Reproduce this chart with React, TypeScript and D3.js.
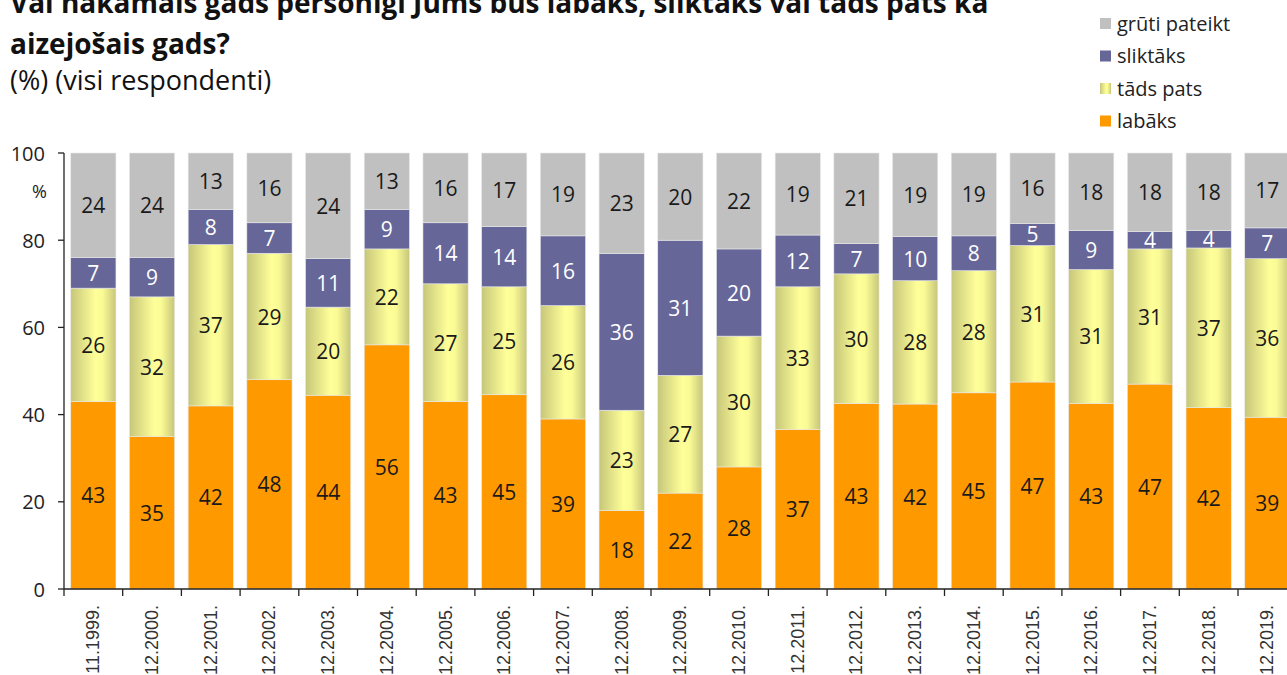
import React, { useEffect, useRef } from 'react'
import * as d3 from 'd3'

const years = ['11.1999.', '12.2000.', '12.2001.', '12.2002.', '12.2003.', '12.2004.', '12.2005.', '12.2006.', '12.2007.', '12.2008.', '12.2009.', '12.2010.', '12.2011.', '12.2012.', '12.2013.', '12.2014.', '12.2015.', '12.2016.', '12.2017.', '12.2018.', '12.2019.']
const labaks = [43, 35, 42, 48, 44, 56, 43, 45, 39, 18, 22, 28, 37, 43, 42, 45, 47, 43, 47, 42, 39]
const tadsPats = [26, 32, 37, 29, 20, 22, 27, 25, 26, 23, 27, 30, 33, 30, 28, 28, 31, 31, 31, 37, 36]
const slikaks = [7, 9, 8, 7, 11, 9, 14, 14, 16, 36, 31, 20, 12, 7, 10, 8, 5, 9, 4, 4, 7]
const gruti = [24, 24, 13, 16, 24, 13, 16, 17, 19, 23, 20, 22, 19, 21, 19, 19, 16, 18, 18, 18, 17]
const seriesKeys = ['labāks', 'tāds pats', 'sliktāks', 'grūti pateikt']
const yTicks = [0, 20, 40, 60, 80, 100]

export default function App() {
    const ref = useRef<SVGSVGElement>(null)

    useEffect(() => {
        const svg = d3.select(ref.current)
        svg.selectAll('*').remove()

        const rows = years.map((y, i) => ({
            year: y,
            'labāks': labaks[i],
            'tāds pats': tadsPats[i],
            'sliktāks': slikaks[i],
            'grūti pateikt': gruti[i],
        }))
        // bars are drawn as 100% stacks
        const stacked = d3.stack<any>().keys(seriesKeys).offset(d3.stackOffsetExpand)(rows)

        const left = 64, top = 153, bottom = 589
        const step = 58.7
        const x = d3.scaleBand().domain(years).range([left, left + step * years.length]).paddingInner(0.23).paddingOuter(0.115)
        const y = d3.scaleLinear().domain([0, 100]).range([bottom, top])

        const defs = svg.append('defs')
        const grad = defs.append('linearGradient').attr('id', 'yel').attr('x1', 0).attr('x2', 1).attr('y1', 0).attr('y2', 0)
        grad.append('stop').attr('offset', 0).attr('stop-color', '#c6c67a')
        grad.append('stop').attr('offset', 0.55).attr('stop-color', '#ffff99')
        grad.append('stop').attr('offset', 0.7).attr('stop-color', '#fbfb96')
        grad.append('stop').attr('offset', 1).attr('stop-color', '#c6c67a')

        const fills: Record<string, string> = {
            'labāks': '#ff9900',
            'tāds pats': 'url(#yel)',
            'sliktāks': '#666699',
            'grūti pateikt': '#c0c0c0',
        }
        const textCol: Record<string, string> = {
            'labāks': '#1a1a1a',
            'tāds pats': '#1a1a1a',
            'sliktāks': '#ffffff',
            'grūti pateikt': '#1a1a1a',
        }

        // title (first line is cut by the top edge, as in the source image)
        svg.append('text').attr('x', 10).attr('y', 13).text('Vai nākamais gads personīgi Jums būs labāks, sliktāks vai tāds pats kā')
            .style('font', 'bold 28px "Open Sans"').attr('fill', '#111')
        svg.append('text').attr('x', 10).attr('y', 54).text('aizejošais gads?')
            .style('font', 'bold 28px "Open Sans"').attr('fill', '#111')
        svg.append('text').attr('x', 10).attr('y', 90).text('(%) (visi respondenti)')
            .style('font', '27px "Open Sans"').attr('fill', '#111')

        // bars
        stacked.forEach(s => {
            const g = svg.append('g')
            s.forEach((d: any, i: number) => {
                const y0 = y(d[0] * 100), y1 = y(d[1] * 100)
                g.append('rect')
                    .attr('x', x(years[i])!)
                    .attr('width', x.bandwidth())
                    .attr('y', y1)
                    .attr('height', y0 - y1)
                    .attr('fill', fills[s.key])
                    .attr('stroke', '#e8e8e8')
                    .attr('stroke-width', 0.6)
                g.append('text')
                    .attr('x', x(years[i])! + x.bandwidth() / 2)
                    .attr('y', (y0 + y1) / 2)
                    .attr('text-anchor', 'middle')
                    .attr('dominant-baseline', 'central')
                    .attr('fill', textCol[s.key])
                    .style('font', '21px "Open Sans"')
                    .text(d.data[s.key])
            })
        })

        // y axis
        svg.append('line').attr('x1', left).attr('x2', left).attr('y1', top).attr('y2', bottom).attr('stroke', '#222').attr('stroke-width', 1.3)
        yTicks.forEach(t => {
            svg.append('line').attr('x1', left - 6).attr('x2', left).attr('y1', y(t)).attr('y2', y(t)).attr('stroke', '#222').attr('stroke-width', 1.3)
            svg.append('text').attr('x', 45).attr('y', y(t)).attr('text-anchor', 'end').attr('dominant-baseline', 'central')
                .style('font', '20px "Open Sans"').attr('fill', '#222').text(t)
        })
        svg.append('text').attr('x', 47).attr('y', 191).attr('text-anchor', 'end').attr('dominant-baseline', 'central')
            .style('font', '18px "Open Sans"').attr('fill', '#222').text('%')

        // x axis
        svg.append('line').attr('x1', left).attr('x2', 1287).attr('y1', bottom).attr('y2', bottom).attr('stroke', '#222').attr('stroke-width', 1.3)
        for (let i = 0; i <= years.length; i++) {
            const xx = left + i * x.step()
            svg.append('line').attr('x1', xx).attr('x2', xx).attr('y1', bottom).attr('y2', bottom + 7).attr('stroke', '#222').attr('stroke-width', 1.3)
        }
        years.forEach(yr => {
            const cx = x(yr)! + x.bandwidth() / 2
            svg.append('text')
                .attr('transform', `translate(${cx},605) rotate(-90)`)
                .attr('text-anchor', 'end')
                .attr('dominant-baseline', 'central')
                .style('font', '18px "Liberation Sans"')
                .attr('fill', '#333')
                .text(yr)
        })

        // legend
        const legendKeys = ['grūti pateikt', 'sliktāks', 'tāds pats', 'labāks']
        legendKeys.forEach((k, i) => {
            const cy = 23 + i * 32.5
            svg.append('rect').attr('x', 1100).attr('y', cy - 5).attr('width', 11).attr('height', 11).attr('fill', fills[k])
            svg.append('text').attr('x', 1117).attr('y', cy).attr('dominant-baseline', 'central')
                .style('font', '20px "Open Sans"').attr('fill', '#222').text(k)
        })
    }, [])

    return (
        <svg ref={ref} width={1287} height={675} style={{ position: 'absolute', left: 0, top: 0, background: '#fff' }} />
    )
}
